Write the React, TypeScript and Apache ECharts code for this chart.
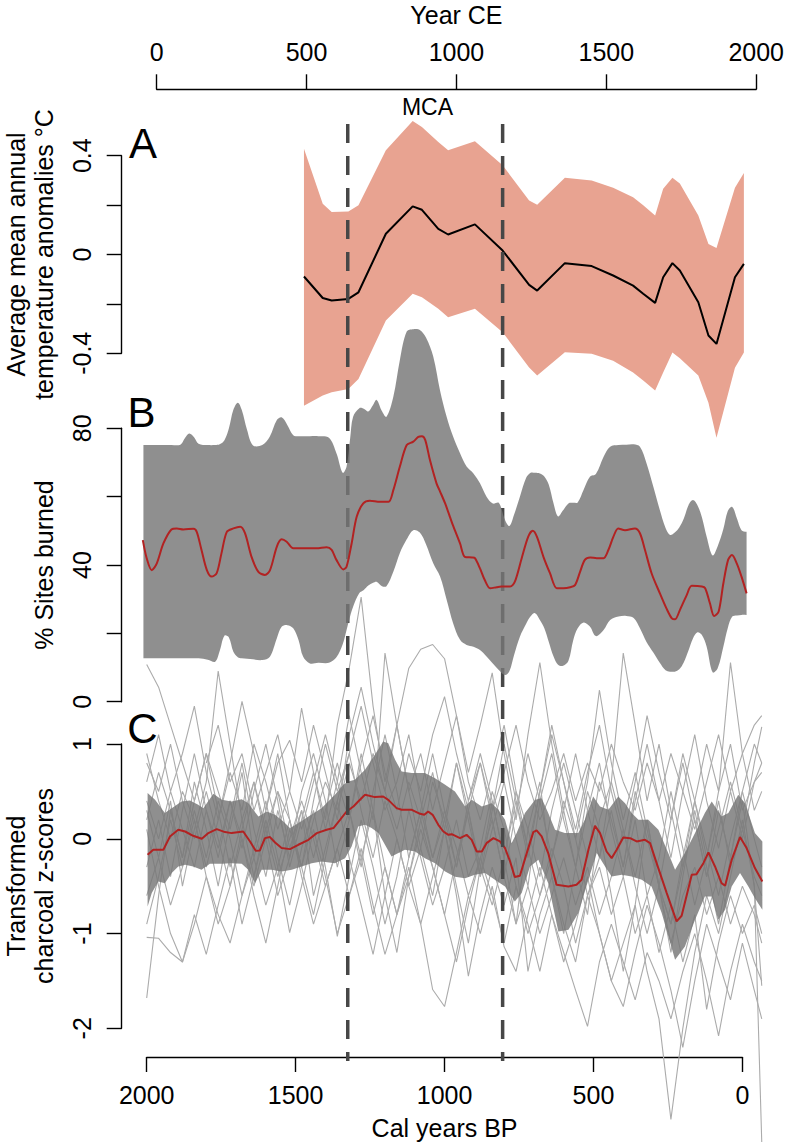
import React, { useEffect, useRef } from 'react';
import * as echarts from 'echarts';

const FONT = "'Liberation Sans', Arial, Helvetica, sans-serif";

// ---------------- Panel A: temperature anomalies (°C) ----------------
const A_BP = [1472, 1409, 1379, 1323, 1289, 1197, 1107, 1076, 1021, 988, 898, 805, 716, 689, 596, 506, 434, 367, 333, 293, 266, 235, 210, 148, 114, 87, 25, -5];
const A_MEAN = [-0.089, -0.176, -0.186, -0.18, -0.153, 0.084, 0.195, 0.181, 0.104, 0.081, 0.122, 0.016, -0.123, -0.146, -0.035, -0.047, -0.085, -0.126, -0.159, -0.196, -0.092, -0.035, -0.065, -0.193, -0.328, -0.362, -0.092, -0.038];
const A_UPPER = [0.428, 0.205, 0.172, 0.174, 0.199, 0.422, 0.54, 0.516, 0.455, 0.422, 0.458, 0.361, 0.219, 0.201, 0.311, 0.3, 0.27, 0.232, 0.199, 0.158, 0.266, 0.311, 0.287, 0.158, 0.043, 0.026, 0.27, 0.33];
const A_LOWER = [-0.612, -0.571, -0.558, -0.545, -0.504, -0.267, -0.159, -0.173, -0.22, -0.254, -0.22, -0.315, -0.457, -0.49, -0.396, -0.402, -0.43, -0.478, -0.51, -0.551, -0.478, -0.397, -0.42, -0.49, -0.6, -0.742, -0.458, -0.397];

// ---------------- Panel B: % sites burned ----------------
const B_MEAN_BP = [2013, 2000, 1983, 1966, 1944, 1917, 1899, 1877, 1843, 1832, 1816, 1798, 1782, 1765, 1749, 1731, 1709, 1686, 1670, 1648, 1625, 1603, 1586, 1563, 1547, 1530, 1508, 1475, 1430, 1396, 1379, 1363, 1340, 1329, 1312, 1295, 1273, 1251, 1217, 1188, 1172, 1150, 1127, 1105, 1088, 1076, 1065, 1049, 1027, 1015, 998, 982, 970, 948, 932, 908, 898, 881, 865, 847, 825, 809, 780, 764, 741, 719, 704, 690, 668, 646, 623, 601, 578, 562, 545, 529, 511, 489, 466, 450, 433, 417, 394, 361, 344, 327, 305, 277, 255, 237, 226, 210, 187, 170, 136, 125, 109, 95, 80, 64, 48, 35, 19, 3, -14];
const B_MEAN = [47.3, 42.0, 38.5, 40.5, 46.3, 50.4, 50.7, 50.4, 50.6, 49.7, 44.4, 38.5, 36.6, 37.6, 43.4, 49.7, 50.7, 51.2, 49.3, 42.4, 38.0, 37.1, 38.5, 45.4, 47.5, 46.8, 44.9, 44.9, 44.9, 45.2, 44.4, 41.5, 38.7, 39.5, 46.3, 54.1, 58.0, 58.8, 58.5, 58.5, 61.9, 68.8, 75.1, 76.1, 77.5, 77.7, 76.6, 70.7, 63.9, 61.5, 58.0, 54.1, 51.2, 46.3, 42.4, 42.2, 42.0, 39.0, 35.6, 33.2, 33.5, 33.7, 33.7, 35.1, 42.0, 48.3, 50.0, 48.3, 42.4, 37.6, 33.2, 33.2, 33.5, 34.1, 38.0, 41.5, 42.2, 42.0, 42.0, 44.4, 48.3, 50.7, 50.2, 50.7, 49.3, 44.4, 37.6, 31.7, 27.3, 24.4, 24.1, 26.8, 31.2, 33.9, 33.7, 33.2, 28.8, 25.1, 26.3, 34.6, 41.5, 42.9, 40.5, 36.6, 31.7];
const B_BAND_BP = [2011, 1989, 1958, 1918, 1887, 1872, 1857, 1841, 1826, 1795, 1770, 1755, 1739, 1724, 1709, 1694, 1681, 1663, 1643, 1612, 1587, 1563, 1547, 1528, 1508, 1490, 1475, 1452, 1424, 1388, 1363, 1342, 1329, 1317, 1307, 1286, 1271, 1256, 1240, 1228, 1210, 1195, 1172, 1150, 1127, 1105, 1083, 1062, 1038, 1015, 993, 971, 948, 926, 903, 881, 859, 838, 818, 797, 782, 767, 747, 726, 711, 696, 680, 665, 650, 634, 619, 602, 584, 568, 553, 533, 512, 492, 466, 444, 416, 390, 365, 344, 322, 299, 278, 258, 243, 227, 212, 197, 181, 166, 151, 136, 120, 100, 83, 64, 49, 34, 18, 3, -14];
const B_UPPER = [75.1, 75.1, 75.1, 75.1, 75.2, 77.1, 78.5, 77.4, 75.5, 75.1, 75.1, 75.3, 76.5, 80.0, 85.4, 87.5, 85.4, 79.5, 75.0, 75.1, 77.5, 82.4, 83.2, 81.0, 78.0, 77.7, 77.7, 77.7, 77.7, 77.2, 72.7, 67.0, 68.8, 77.0, 83.4, 85.9, 85.7, 84.9, 86.8, 88.3, 85.0, 83.4, 89.2, 100.0, 108.3, 109.0, 108.8, 106.5, 101.0, 91.0, 83.4, 77.5, 72.7, 68.8, 66.8, 63.9, 60.0, 58.0, 58.2, 53.2, 51.4, 54.6, 60.0, 65.5, 67.0, 67.0, 66.8, 65.9, 63.5, 58.0, 54.2, 56.0, 58.0, 58.2, 58.3, 62.0, 65.8, 66.6, 71.7, 74.6, 75.1, 75.2, 75.3, 74.6, 69.8, 62.9, 56.3, 50.8, 48.8, 49.5, 51.0, 53.5, 57.5, 59.0, 57.5, 54.0, 48.3, 42.8, 45.5, 50.5, 55.8, 57.0, 53.5, 50.2, 49.7];
const B_LOWER = [12.7, 12.7, 12.7, 12.7, 12.7, 12.7, 12.7, 12.7, 12.7, 12.3, 11.7, 14.8, 19.3, 18.8, 14.6, 13.0, 12.7, 12.6, 12.4, 12.2, 13.1, 18.6, 21.9, 22.4, 21.5, 18.0, 13.2, 11.2, 11.4, 11.4, 13.0, 16.8, 21.0, 25.0, 27.8, 31.8, 32.7, 34.0, 34.8, 35.1, 33.8, 33.8, 38.0, 43.5, 47.5, 50.2, 49.5, 46.0, 40.5, 36.6, 29.8, 22.9, 18.1, 16.6, 16.1, 15.1, 13.2, 11.2, 9.3, 7.8, 9.0, 13.5, 19.0, 22.8, 25.0, 25.9, 23.9, 21.5, 17.5, 13.2, 10.8, 10.5, 12.0, 18.0, 21.5, 23.2, 22.0, 19.2, 21.0, 23.9, 24.9, 25.1, 24.5, 21.5, 17.5, 14.4, 11.5, 9.2, 8.8, 8.8, 9.5, 11.5, 15.0, 18.5, 20.3, 19.5, 16.1, 8.6, 9.8, 16.1, 21.6, 24.9, 25.2, 25.4, 25.4];

// ---------------- Panel C: transformed charcoal z-scores ----------------
const C_MEAN_BP = [1997, 1978, 1944, 1922, 1894, 1871, 1844, 1815, 1793, 1765, 1737, 1715, 1676, 1653, 1634, 1620, 1603, 1586, 1569, 1547, 1519, 1491, 1457, 1429, 1396, 1373, 1351, 1329, 1306, 1290, 1267, 1234, 1206, 1189, 1161, 1144, 1110, 1082, 1068, 1055, 1040, 1021, 1004, 987, 976, 948, 926, 909, 892, 875, 859, 836, 814, 797, 780, 764, 747, 724, 702, 691, 674, 652, 624, 584, 557, 540, 517, 495, 478, 456, 439, 422, 400, 377, 355, 327, 310, 288, 254, 221, 204, 170, 154, 131, 114, 92, 70, 58, 36, 8, -14, -42, -67];
const C_MEAN = [-0.169, -0.116, -0.116, 0.024, 0.095, 0.077, 0.032, 0.0, 0.06, 0.102, 0.071, 0.06, 0.077, -0.028, -0.127, -0.123, 0.007, 0.018, -0.039, -0.098, -0.109, -0.063, -0.011, 0.06, 0.095, 0.113, 0.2, 0.288, 0.341, 0.394, 0.464, 0.44, 0.446, 0.411, 0.324, 0.306, 0.306, 0.264, 0.253, 0.288, 0.253, 0.148, 0.077, 0.042, 0.049, 0.007, 0.042, -0.011, -0.134, -0.134, -0.046, 0.007, -0.028, -0.098, -0.239, -0.404, -0.39, -0.151, 0.07, 0.088, 0.025, -0.151, -0.485, -0.503, -0.485, -0.432, -0.116, 0.137, 0.06, -0.134, -0.204, -0.116, 0.014, 0.007, -0.028, -0.011, -0.046, -0.257, -0.573, -0.872, -0.812, -0.38, -0.373, -0.257, -0.144, -0.292, -0.468, -0.496, -0.222, 0.018, -0.098, -0.309, -0.45];
const C_UPPER: number[][] = [[1997, 0.482], [1972, 0.411], [1939, 0.271], [1916, 0.323], [1883, 0.394], [1855, 0.404], [1827, 0.359], [1810, 0.323], [1776, 0.475], [1748, 0.411], [1715, 0.394], [1681, 0.418], [1659, 0.376], [1625, 0.236], [1597, 0.288], [1569, 0.253], [1541, 0.183], [1519, 0.113], [1491, 0.165], [1457, 0.236], [1413, 0.323], [1368, 0.464], [1340, 0.57], [1323, 0.605], [1301, 0.622], [1267, 0.728], [1234, 0.886], [1206, 1.027], [1189, 1.009], [1166, 0.833], [1144, 0.71], [1110, 0.693], [1066, 0.693], [1032, 0.64], [998, 0.57], [965, 0.5], [931, 0.341], [909, 0.411], [875, 0.341], [842, 0.376], [819, 0.306], [797, 0.2], [775, -0.046], [758, 0.06], [730, 0.271], [696, 0.411], [674, 0.429], [652, 0.271], [629, 0.095], [596, 0.06], [551, 0.06], [529, 0.2], [501, 0.447], [478, 0.341], [450, 0.306], [417, 0.447], [394, 0.376], [372, 0.271], [349, 0.2], [316, 0.2], [282, 0.095], [249, -0.151], [226, -0.327], [193, -0.151], [159, 0.06], [126, 0.271], [103, 0.394], [70, 0.236], [47, 0.271], [14, 0.464], [-9, 0.376], [-42, 0.06], [-67, -0.028]];
const C_LOWER: number[][] = [[1997, -0.714], [1983, -0.573], [1961, -0.45], [1939, -0.468], [1916, -0.362], [1894, -0.292], [1871, -0.274], [1844, -0.292], [1816, -0.327], [1788, -0.264], [1748, -0.264], [1715, -0.257], [1681, -0.264], [1659, -0.327], [1636, -0.468], [1614, -0.327], [1581, -0.327], [1547, -0.345], [1513, -0.327], [1480, -0.292], [1446, -0.257], [1413, -0.239], [1368, -0.257], [1334, -0.204], [1312, -0.081], [1290, 0.13], [1267, 0.148], [1245, 0.113], [1222, 0.06], [1200, -0.063], [1178, -0.187], [1155, -0.151], [1133, -0.116], [1099, -0.134], [1066, -0.204], [1032, -0.257], [998, -0.345], [965, -0.4], [931, -0.415], [898, -0.38], [864, -0.362], [831, -0.432], [797, -0.503], [764, -0.661], [741, -0.573], [713, -0.292], [685, -0.222], [652, -0.468], [618, -0.978], [584, -0.96], [551, -0.784], [517, -0.432], [489, -0.151], [461, -0.292], [439, -0.397], [405, -0.38], [372, -0.397], [338, -0.432], [305, -0.503], [271, -0.784], [226, -1.276], [193, -1.136], [159, -0.854], [126, -0.608], [103, -0.608], [81, -0.854], [58, -0.749], [36, -0.503], [8, -0.362], [-20, -0.503], [-42, -0.626], [-67, -0.749]];

// individual site records (grey lines), sampled at SITE_BP
const SITE_BP = [2000, 1960, 1920, 1880, 1840, 1800, 1760, 1720, 1680, 1640, 1600, 1560, 1520, 1480, 1440, 1400, 1360, 1320, 1280, 1240, 1200, 1160, 1120, 1080, 1040, 1000, 960, 920, 880, 840, 800, 760, 720, 680, 640, 600, 560, 520, 480, 440, 400, 360, 320, 280, 240, 200, 160, 120, 80, 40, 0, -40, -65];
const SITE_01 = [1.84, 1.6, 1.2, 0.8, 0.4, 0.9, 0.5, 0.1, 0.7, -0.2, 0.3, 0.9, 0.2, -0.3, 0.4, 1.0, 0.5, 0.9, 1.4, 0.8, 0.3, 0.6, 1.1, 0.4, -0.2, 0.2, 0.8, 0.3, -0.4, 0.1, 0.6, 0.0, -0.5, 0.4, 0.9, 0.2, -0.3, 0.3, 0.8, 0.1, -0.4, 0.2, -0.6, -0.2, 0.5, -0.1, -0.7, -0.2, 0.4, -0.3, 0.1, -0.4, -0.6];
const SITE_02 = [-1.68, -0.6, 0.3, -0.2, 0.6, 0.1, -0.5, 0.2, 0.8, 0.1, -0.4, 0.3, -0.2, 0.5, 0.9, 0.4, -0.3, 0.2, 0.9, 0.3, -0.6, -1.2, -0.4, 0.2, 0.7, 0.1, -0.5, -1.1, -0.3, 0.4, -0.2, -0.9, 0.1, 0.6, -0.4, -1.0, -0.3, 0.5, 0.1, -0.6, -1.4, -0.7, 0.2, -0.5, -1.2, -0.4, 0.3, -0.3, -0.9, -0.2, 0.4, -0.5, -1.55];
const SITE_03 = [-1.04, -1.05, -1.2, -1.3, -0.9, -0.4, -0.8, -1.1, -0.6, -0.2, -0.7, -0.3, 0.2, -0.4, -0.9, -0.5, -0.1, -0.6, -0.2, 0.3, -0.3, -0.8, -0.4, 0.1, -0.3, -0.8, -1.3, -0.7, -0.2, -0.6, -1.1, -0.5, -0.9, -1.4, -0.8, -1.2, -1.6, -1.98, -1.3, -0.9, -1.3, -1.7, -1.2, -1.5, -1.9, -1.4, -1.0, -1.5, -2.08, -1.4, -0.9, -1.3, -1.5];
const SITE_04 = [0.3, -0.2, 0.4, -0.5, 0.1, 0.6, 1.77, 1.0, 0.2, -0.4, 0.1, 0.5, -0.1, 0.3, -0.6, -0.1, 0.4, 0.9, 0.3, -0.2, 0.4, 0.0, -0.5, -0.1, 0.6, 0.2, -0.3, 0.3, 0.8, 0.2, -0.4, 0.3, 0.9, 0.4, -0.2, 0.4, 0.0, -0.6, -0.2, 0.3, -0.3, 0.5, 0.0, -0.5, -0.9, -0.3, 0.2, -0.4, 0.1, 0.6, 0.1, 0.8, 1.18];
const SITE_05 = [0.1, -0.5, -1.0, -1.3, -0.8, -1.22, -0.7, -0.2, -0.9, -0.4, 0.2, -0.3, -0.99, -0.5, 0.1, -0.4, -1.0, -0.6, -0.1, -0.7, -1.22, -0.8, -0.3, -0.9, -1.59, -1.77, -1.2, -0.6, -1.0, -0.5, -1.14, -1.4, -0.8, -0.3, -0.8, -1.3, -0.9, -0.4, -1.0, -1.5, -1.77, -1.2, -0.7, -1.1, -1.6, -2.2, -1.5, -0.9, -1.3, -1.7, -1.1, -1.6, -1.9];
const SITE_06 = [0.6, 1.1, 0.5, 0.9, 1.4, 0.7, 0.2, 0.8, 1.45, 0.9, 0.3, 0.8, 1.04, 0.6, 1.2, 0.7, 0.2, 1.1, 1.6, 1.0, 0.5, 1.2, 1.8, 2.0, 2.05, 1.9, 1.3, 0.6, 0.2, 0.7, 1.2, 0.5, -0.1, 0.5, 1.1, 0.6, 0.1, 0.7, 1.2, 0.5, 0.0, 0.6, 1.3, 0.7, 0.2, 0.9, 0.4, -0.2, 0.5, 1.0, 0.3, 0.6, 0.8];
const SITE_07 = [-0.3, 0.2, -0.4, 0.3, 0.9, 0.3, -0.2, 0.4, -0.1, 0.5, 1.0, 0.4, -0.3, 0.2, 0.7, 0.2, 1.2, 1.8, 2.55, 1.4, 0.6, 1.2, 0.5, -0.1, -0.6, 0.1, 0.8, 0.2, -0.4, 0.3, 1.0, 0.4, -0.2, 0.5, 1.2, 0.6, 0.0, 0.6, 1.57, 0.8, 0.2, 0.7, 0.1, -0.5, 0.2, 0.8, 0.2, -0.4, 0.3, -0.2, 0.5, 1.0, 0.8];
const SITE_08 = [0.9, 0.4, 0.0, 0.5, 0.2, -0.3, 0.2, 0.7, 0.3, 1.0, 0.6, 0.1, 0.5, 1.38, 0.7, 0.1, 0.6, 1.3, 0.7, 0.2, 1.96, 1.2, 0.5, 0.9, 0.3, 0.8, 1.3, 0.7, 1.2, 1.75, 0.9, 0.2, 1.1, 1.86, 1.0, 0.3, 0.9, 0.3, -0.2, 0.6, 1.96, 1.2, 0.4, 1.0, 0.3, -0.3, 0.4, 1.0, 0.5, 1.86, 0.9, 0.3, 0.5];
const SITE_09 = [-0.6, -0.2, -0.7, -0.3, 0.2, -0.4, -0.9, -0.5, 0.0, -0.6, -1.1, -0.5, 0.1, -0.3, -0.8, -0.2, 0.4, -0.2, -0.7, -1.22, -0.6, 0.0, -0.5, -0.9, -0.4, 0.1, -0.6, -1.45, -0.8, -0.3, -0.7, -0.2, -1.4, -0.8, -0.4, -0.9, -1.3, -0.6, -1.0, -1.5, -1.1, -0.7, -1.4, -1.9, -2.96, -2.0, -1.2, -0.6, -1.0, -0.4, 0.2, -0.5, -3.2];
const SITE_10 = [0.4, 0.0, 0.5, 0.1, -0.3, 0.3, -0.1, 0.4, 0.0, -0.5, 0.0, 0.5, 0.2, -0.3, 0.2, 0.6, 0.3, 0.8, 0.4, 0.9, 0.5, 0.1, 0.6, 0.2, -0.3, -0.8, -0.2, 0.3, -0.3, -0.7, -0.2, 0.4, -0.1, -0.6, -0.2, 0.3, -0.3, -0.8, 0.2, 0.6, 0.1, -0.4, 0.2, -0.5, -0.9, -0.2, 0.4, -0.1, -0.6, 0.0, 0.5, 0.0, -0.3];
const SITE_11 = [-0.9, -0.4, 0.2, -0.3, 0.3, -0.2, 0.4, 0.0, -0.6, -0.1, 0.4, -0.2, -0.7, -0.1, 0.3, -0.3, -1.03, -0.4, 0.2, -0.3, -0.9, -0.4, 0.3, -0.2, -0.7, -0.3, 0.2, -0.4, -0.1, 0.5, 0.1, -0.5, -1.0, -0.6, -0.1, -0.5, -1.1, -0.6, -0.3, -0.8, -0.4, -1.0, -0.6, -1.2, -0.7, -1.3, -0.8, -1.8, -1.1, -0.6, -1.0, -0.7, -1.0];
const SITE_12 = [null, null, null, null, null, 0.8, 1.2, 0.6, 0.9, 0.3, 0.7, 1.1, 0.5, 0.1, 0.6, 1.1, 0.6, 0.2, 0.8, 1.3, 0.7, 0.3, 0.9, 0.5, 1.1, 1.5, 0.9, 0.4, 0.8, 0.3, 0.7, 1.2, 0.6, 0.2, 0.5, 0.9, 0.4, 0.8, 0.5, 1.0, 0.6, 0.3, 0.8, 0.4, 0.9, 0.5, 0.1, 0.6, 1.1, 0.5, 0.9, 1.2, 1.3];
const SITE_13 = [0.2, 0.7, 0.3, -0.2, 0.4, 0.9, 0.3, -0.3, 0.2, 0.6, 0.1, -0.4, 0.0, 0.4, 0.0, -0.5, -0.1, 0.3, -0.2, -0.8, -0.3, -0.8, -0.2, 0.3, -0.2, 0.3, -0.1, -0.6, -0.2, 0.2, -0.4, -0.9, -0.5, -1.0, -0.6, -0.2, -0.7, -0.3, -0.8, -0.4, 0.1, -0.5, -1.0, -0.5, -1.1, -0.6, -0.3, -0.8, -0.4, -0.9, -0.5, -0.8, -1.1];
const SITE_14 = [0.8, 0.5, 1.0, 0.4, 0.0, 0.5, 0.0, -0.5, 0.1, 0.6, 0.0, -0.6, -0.2, 0.3, -0.2, 0.3, 0.8, 0.3, -0.3, 0.5, 1.1, 0.5, -0.2, 0.3, 0.9, 0.3, -0.3, 0.4, 0.9, 0.4, -0.2, 0.5, 0.1, -0.4, 0.3, 0.8, 0.3, -0.2, 0.6, 0.2, -0.3, 0.4, 1.0, 0.4, -0.2, 0.5, 1.1, 0.4, -0.1, 0.5, 0.0, 0.6, 0.7];
const SITES = [SITE_01, SITE_02, SITE_03, SITE_04, SITE_05, SITE_06, SITE_07, SITE_08, SITE_09, SITE_10, SITE_11, SITE_12, SITE_13, SITE_14];

// Medieval Climate Anomaly bounds (cal yr BP)
const MCA_BOUNDS = [1325, 805];

// axis ticks
const CE_TICKS = { min: 0, max: 2000, interval: 500 };
const BP_TICKS = { min: 0, max: 2000, interval: 500 };

// ---------------- layout (pixels) ----------------
const PX_PER_YR = 0.29785;
const X_BP2000 = 146.7;
const DATA_BP_MAX = 2020;
const DATA_BP_MIN = -80;
const DATA_LEFT = X_BP2000 - (DATA_BP_MAX - 2000) * PX_PER_YR;
const DATA_WIDTH = (DATA_BP_MAX - DATA_BP_MIN) * PX_PER_YR;
const AXIS_X = 121.7;

function dataGrid(zeroY: number, pxPerUnit: number, vMin: number, vMax: number) {
  return { left: DATA_LEFT, width: DATA_WIDTH, top: zeroY - vMax * pxPerUnit, height: (vMax - vMin) * pxPerUnit };
}

const axisLine = { color: '#000', width: 1.4 };
const plain = (v: number) => String(Math.round(v));

function hiddenAxis(gridIndex: number, min: number, max: number, inverse = false) {
  return { gridIndex, type: 'value', min, max, inverse, show: false, splitLine: { show: false } };
}

function visibleY(gridIndex: number, min: number, max: number, interval: number, formatter: (v: number) => string) {
  return {
    gridIndex, type: 'value', min, max, interval, position: 'left',
    axisLine: { show: true, onZero: false, lineStyle: axisLine },
    axisTick: { show: true, length: 15, lineStyle: axisLine },
    axisLabel: { rotate: 90, fontSize: 25, color: '#000', margin: 27, fontFamily: FONT, formatter },
    splitLine: { show: false },
  };
}

function band(name: string, idx: number, upper: number[][], lower: number[][], fill: string, smooth: boolean, z: number) {
  return {
    type: 'custom', name, xAxisIndex: idx, yAxisIndex: idx, z, silent: true,
    dimensions: ['x', 'y'], encode: { x: 0, y: 1 },
    data: [upper[0]],
    renderItem: (_params: any, api: any) => {
      const up = upper.map((p) => api.coord(p));
      const lo = lower.map((p) => api.coord(p)).reverse();
      const points = smooth
        ? [up[0], ...up, up[up.length - 1], lo[0], ...lo, lo[lo.length - 1]]
        : [...up, ...lo];
      return { type: 'polygon', shape: { points, smooth: smooth ? 0.35 : 0 }, style: { fill } };
    },
  };
}

function line(name: string, idx: number, xs: number[], ys: (number | null)[], color: string, width: number, z: number, smooth: number | boolean = false) {
  const data: number[][] = [];
  xs.forEach((x, i) => { const y = ys[i]; if (y !== null && y !== undefined) data.push([x, y]); });
  return {
    type: 'line', name, xAxisIndex: idx, yAxisIndex: idx, data, z, silent: true,
    symbol: 'none', showSymbol: false, smooth, lineStyle: { color, width }, emphasis: { disabled: true },
  };
}

function buildOption() {
  const grids = [
    { left: 156.7, width: 600, top: 89.3, height: 20 }, // 0 top CE axis
    { left: X_BP2000, width: 2000 * PX_PER_YR, top: 1000, height: 57 }, // 1 bottom BP axis
    { left: AXIS_X, width: 40, top: 155.7, height: 197.6 }, // 2 A axis
    { left: AXIS_X, width: 40, top: 428.3, height: 273.4 }, // 3 B axis
    { left: AXIS_X, width: 40, top: 744, height: 284.3 }, // 4 C axis
    dataGrid(254.5, 247, -1, 0.6), // 5 A data
    dataGrid(701.7, 3.4175, -10, 115), // 6 B data
    dataGrid(838.8, 94.77, -3.2, 2.8), // 7 C data
    { left: DATA_LEFT, width: DATA_WIDTH, top: 124, height: 937 }, // 8 MCA lines
  ];

  const xAxis: any[] = [
    {
      gridIndex: 0, type: 'value', position: 'top', ...CE_TICKS,
      name: 'Year CE', nameLocation: 'middle', nameGap: 62,
      nameTextStyle: { fontSize: 25, color: '#000', fontFamily: FONT },
      axisLine: { show: true, onZero: false, lineStyle: axisLine },
      axisTick: { show: true, length: 15, lineStyle: axisLine },
      axisLabel: { fontSize: 25, color: '#000', margin: 25, fontFamily: FONT, formatter: plain },
      splitLine: { show: false },
    },
    {
      gridIndex: 1, type: 'value', position: 'bottom', inverse: true, ...BP_TICKS,
      name: 'Cal years BP', nameLocation: 'middle', nameGap: 58,
      nameTextStyle: { fontSize: 25, color: '#000', fontFamily: FONT },
      axisLine: { show: true, onZero: false, lineStyle: axisLine },
      axisTick: { show: true, length: 15, lineStyle: axisLine },
      axisLabel: { fontSize: 25, color: '#000', margin: 25, fontFamily: FONT, formatter: plain },
      splitLine: { show: false },
    },
    hiddenAxis(2, 0, 1), hiddenAxis(3, 0, 1), hiddenAxis(4, 0, 1),
    hiddenAxis(5, DATA_BP_MIN, DATA_BP_MAX, true),
    hiddenAxis(6, DATA_BP_MIN, DATA_BP_MAX, true),
    hiddenAxis(7, DATA_BP_MIN, DATA_BP_MAX, true),
    hiddenAxis(8, DATA_BP_MIN, DATA_BP_MAX, true),
  ];

  const yAxis: any[] = [
    hiddenAxis(0, 0, 1), hiddenAxis(1, 0, 1),
    visibleY(2, -0.4, 0.4, 0.2, (v) => { const r = Math.round(v * 10) / 10; return r === 0 || Math.abs(r) === 0.4 ? String(r) : ''; }),
    visibleY(3, 0, 80, 20, (v) => (Math.round(v) % 40 === 0 ? String(Math.round(v)) : '')),
    visibleY(4, -2, 1, 1, (v) => String(Math.round(v))),
    hiddenAxis(5, -1, 0.6), hiddenAxis(6, -10, 115), hiddenAxis(7, -3.2, 2.8), hiddenAxis(8, 0, 1),
  ];

  const aUpper = A_BP.map((b, i) => [b, A_UPPER[i]]);
  const aLower = A_BP.map((b, i) => [b, A_LOWER[i]]);
  const bUpper = B_BAND_BP.map((b, i) => [b, B_UPPER[i]]);
  const bLower = B_BAND_BP.map((b, i) => [b, B_LOWER[i]]);

  const series: any[] = [
    band('A band', 5, aUpper, aLower, '#E8A391', false, 1),
    line('A mean', 5, A_BP, A_MEAN, '#000', 2, 2),
    ...SITES.map((s, i) => line('site ' + (i + 1), 7, SITE_BP, s, '#ABABAB', 1.1, 3)),
    band('C band', 7, C_UPPER, C_LOWER, 'rgba(118,118,118,0.82)', false, 4),
    line('C mean', 7, C_MEAN_BP, C_MEAN, '#B22222', 2, 5),
    ...MCA_BOUNDS.map((b) => ({
      type: 'line', name: 'MCA', xAxisIndex: 8, yAxisIndex: 8, z: 6, silent: true,
      data: [[b, 1], [b, 0]], symbol: 'none', showSymbol: false,
      lineStyle: { color: '#474747', width: 3.5, type: [19, 13] },
    })),
    band('B band', 6, bUpper, bLower, 'rgba(118,118,118,0.82)', true, 7),
    line('B mean', 6, B_MEAN_BP, B_MEAN, '#B22222', 2, 8, 0.3),
  ];

  const txt = (text: string, x: number, y: number, fontSize: number, rotation = 0) => ({
    type: 'text', x, y, rotation, silent: true, z: 10,
    style: { text, fontSize, fontFamily: FONT, fill: '#000', align: 'center', verticalAlign: 'middle', textAlign: 'center', textVerticalAlign: 'middle' },
  });

  const graphic = [
    txt('Average mean annual', 16, 254.5, 25, Math.PI / 2),
    txt('temperature anomalies °C', 44, 254.5, 25, Math.PI / 2),
    txt('% Sites burned', 44, 565, 25, Math.PI / 2),
    txt('Transformed', 16, 886, 25, Math.PI / 2),
    txt('charcoal z-scores', 44, 886, 25, Math.PI / 2),
    txt('A', 143, 143, 42),
    txt('B', 141.5, 412.5, 42),
    txt('C', 142.5, 728.5, 42),
    txt('MCA', 427.5, 106.5, 23),
  ];

  return {
    animation: false,
    backgroundColor: '#ffffff',
    textStyle: { fontFamily: FONT },
    grid: grids,
    xAxis,
    yAxis,
    series,
    graphic,
  };
}

export default function App() {
  const ref = useRef<HTMLDivElement>(null);
  useEffect(() => {
    if (!ref.current) return;
    const chart = echarts.init(ref.current, undefined, { renderer: 'svg', width: 787, height: 1144 });
    chart.setOption(buildOption() as any);
    return () => chart.dispose();
  }, []);
  return <div ref={ref} style={{ position: 'absolute', left: 0, top: 0, width: 787, height: 1144, background: '#fff' }} />;
}
